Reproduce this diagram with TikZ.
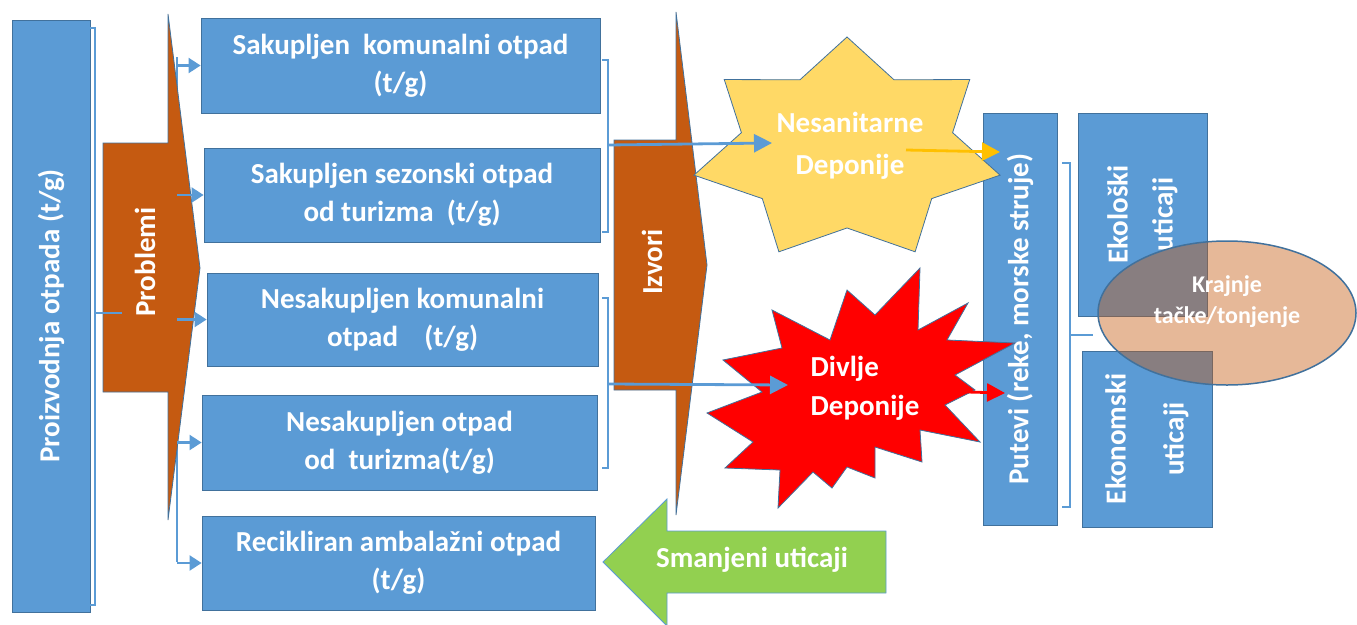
\documentclass[tikz,border=0pt]{standalone}
\usepackage{fontspec}
\setmainfont{Carlito}
\usetikzlibrary{arrows.meta,shapes.geometric,positioning}

\definecolor{boxblue}{HTML}{5B9BD5}
\definecolor{edgeblue}{HTML}{41719C}
\definecolor{rust}{HTML}{C55A11}
\definecolor{sand}{HTML}{FFD966}
\definecolor{leaf}{HTML}{92D050}
\definecolor{amber}{HTML}{FFC000}

\begin{document}
\begin{tikzpicture}[x=1pt,y=-1pt,
    bluebox/.style={draw=edgeblue,line width=0.8pt,fill=boxblue,text=white,
      font=\bfseries\fontsize{29}{38}\selectfont,align=center,inner sep=0pt},
    whitetext/.style={text=white,font=\bfseries\fontsize{29}{38}\selectfont,
      align=center,inner sep=0pt},
    brace/.style={boxblue,line width=1.6pt},
    stub/.style={boxblue,line width=2.2pt,-{Triangle[length=12pt,width=15pt]}},
    flow/.style={line width=2.8pt,-{Triangle[length=18pt,width=18pt]}}]
\useasboundingbox (0,0) rectangle (1357,624);

% production column
\node[bluebox,rotate=90,minimum width=592pt,minimum height=78pt] (prod) at (51,316) {Proizvodnja otpada\ (t/g)};
\draw[brace] (90,28) -- (95,28) -- (95,605) -- (90,605);
\coordinate (prodmid) at (95,313);

% Problemi
\coordinate (spinetop) at (177,57);
\coordinate (spinebot) at (177,562);
\draw[brace] (spinetop) -- (spinebot);
\filldraw[fill=rust,draw=edgeblue,line width=0.8pt] (103,143) -- (168,143) -- (168,14) -- (200,268)
  -- (168,520) -- (168,392) -- (103,392) -- cycle;
\node[whitetext,rotate=90] (prob) at (145,262) {Problemi};
\draw[brace] (prodmid) -- (122,313);

% waste boxes
\node[bluebox,minimum width=399pt,minimum height=95pt] (b1) at (400.5,65.5) {Sakupljen\ \ komunalni otpad\\(t/g)};
\node[bluebox,minimum width=396pt,minimum height=94pt] (b2) at (402,195) {Sakupljen sezonski otpad\\od turizma\ \ (t/g)};
\node[bluebox,minimum width=391pt,minimum height=93pt] (b3) at (402.5,319.5) {Nesakupljen komunalni\\otpad\ \ \ \ (t/g)};
\node[bluebox,minimum width=395pt,minimum height=95pt] (b4) at (399.5,442.5) {Nesakupljen otpad\\od\ \ turizma(t/g)};
\node[bluebox,minimum width=393pt,minimum height=94pt] (b5) at (398.5,563) {Recikliran ambalažni otpad\\(t/g)};
\foreach \b in {b1,b2,b3,b4,b5}
  \draw[stub] (\b.west -| spinetop) -- (\b.west);

% brackets towards Izvori
\draw[brace] (602,60) -- (608,60) -- (608,232) -- (602,232);
\draw[brace] (602,298) -- (608,298) -- (608,468) -- (602,468);
\coordinate (brA) at (608,145);
\coordinate (brB) at (608,384);

% Izvori
\filldraw[fill=rust,draw=edgeblue,line width=0.8pt] (614,140) -- (676,140) -- (676,12) -- (707,265)
  -- (676,515) -- (676,390) -- (614,390) -- cycle;
\node[whitetext,rotate=90] (izv) at (652,262) {Izvori};

% pathways and impacts
\node[bluebox,rotate=90,minimum width=412pt,minimum height=74pt] (putevi) at (1020,319) {Putevi (reke, morske struje)};
\node[bluebox,rotate=90,minimum width=203pt,minimum height=129pt,
  font=\bfseries\fontsize{29}{45}\selectfont] (eco) at (1142.5,214.5) {Ekološki\\uticaji};
\node[bluebox,rotate=90,minimum width=176pt,minimum height=130pt,
  font=\bfseries\fontsize{29}{45}\selectfont] (econ) at (1147,439) {Ekonomski\\[13pt]uticaji};
\draw[brace] (1062,163) -- (1070,163) -- (1070,507) -- (1062,507);
\draw[brace] (1070,335) -- (1093,335);

% landfills
\filldraw[fill=sand,draw=edgeblue,line width=0.8pt]
  plot[samples at={0,...,13}] ({847+(1-0.31*mod(\x,2))*157*cos(90+\x*180/7)},
                               {150-(1-0.31*mod(\x,2))*113*sin(90+\x*180/7)}) -- cycle;
\node[whitetext,font=\bfseries\fontsize{29}{42}\selectfont] (nes) at (850,146) {Nesanitarne\\Deponije};
\filldraw[fill=red,draw=edgeblue,line width=0.8pt] (920,268) -- (918,330) -- (968,303) -- (947,340)
  -- (1015,343) -- (955,375) -- (975,390) -- (945,405) -- (980,442) -- (920,430) -- (922,462)
  -- (875,447) -- (875,478) -- (847,467) -- (832,488) -- (813,472) -- (778,508) -- (780,470)
  -- (725,468) -- (753,442) -- (707,413) -- (762,392) -- (723,360) -- (782,348) -- (772,310)
  -- (830,340) -- (847,290) -- (875,315) -- cycle;
\node[whitetext,align=left,font=\bfseries\fontsize{29}{39}\selectfont] (div) at (865,388) {Divlje\\Deponije};

\coordinate (nsin) at (772,143);
\coordinate (dvin) at (788,385);
\coordinate (nsout) at (906,150);
\coordinate (nsend) at (1000,152);
\coordinate (dvout) at (967,392);
\coordinate (dvend) at (1005,393);
\draw[flow,boxblue] (brA) -- (nsin);
\draw[flow,boxblue] (brB) -- (dvin);
\draw[flow,amber] (nsout) -- (nsend);
\draw[flow,red] (dvout) -- (dvend);

% end points
\node[ellipse,draw=edgeblue,line width=1.5pt,fill=rust,fill opacity=0.43,
  minimum width=258pt,minimum height=144pt] (sink) at (1227,313) {};
\node[whitetext,font=\bfseries\fontsize{24}{31}\selectfont] (sinktext) at (1227,302) {Krajnje\\tačke/tonjenje};

% reduced impacts
\filldraw[fill=leaf,draw=boxblue,line width=0.8pt] (603,562) -- (667,499) -- (667,531) -- (886,531)
  -- (886,593) -- (667,593) -- (667,626) -- cycle;
\node[whitetext] (less) at (752,560) {Smanjeni uticaji};
\end{tikzpicture}
\end{document}
